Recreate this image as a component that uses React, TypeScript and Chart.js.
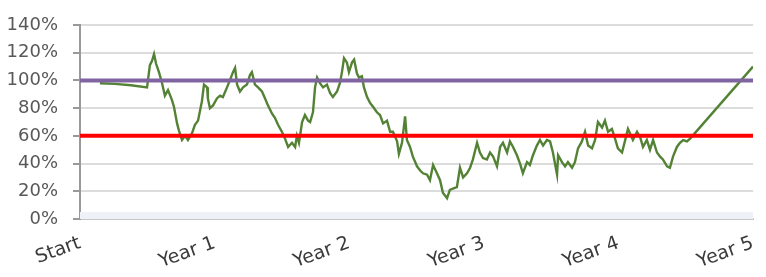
import React, { useEffect, useRef } from "react";
import { Chart, registerables } from "chart.js";

Chart.register(...registerables);

// x labels (one per year tick, 52 weeks apart)
const yearLabels = ["Start", "Year 1", "Year 2", "Year 3", "Year 4", "Year 5"];
const yTickValues = [0, 20, 40, 60, 80, 100, 120, 140];

// elapsed time in weeks for each observation
const weeks = [
  7.7, 13.5, 19.7, 25.9, 27.0, 27.8, 28.6, 29.4, 30.5, 31.7, 32.8, 34.0, 35.5, 36.3, 37.5, 38.2,
  39.4, 40.6, 41.7, 43.3, 44.4, 45.6, 47.1, 47.9, 49.1, 49.4, 50.2, 51.4, 52.9, 54.1, 55.2, 56.8,
  57.9, 59.1, 59.9, 60.7, 61.8, 63.0, 64.5, 65.7, 66.4, 67.6, 68.8, 70.3, 71.5, 72.6, 74.2, 75.3,
  76.5, 78.0, 79.2, 80.4, 81.9, 83.1, 83.8, 84.6, 85.8, 86.9, 88.1, 88.9, 90.0, 90.8, 91.6, 92.7,
  93.9, 95.4, 96.6, 97.7, 99.3, 100.4, 101.2, 102.0, 103.1, 103.9, 105.1, 105.9, 107.0, 107.8, 108.9,
  109.7, 110.9, 112.0, 113.2, 114.7, 115.9, 117.1, 118.6, 119.8, 120.9, 122.5, 123.2, 124.4, 125.6,
  126.3, 127.5, 128.6, 130.2, 131.4, 132.5, 134.1, 135.2, 136.4, 137.9, 139.1, 140.2, 141.8, 142.9,
  144.1, 145.6, 146.8, 148.0, 149.5, 150.7, 151.8, 153.4, 154.5, 155.7, 157.2, 158.4, 159.6, 161.1,
  162.3, 163.4, 165.0, 166.1, 167.3, 168.8, 170.0, 171.1, 172.7, 173.8, 175.0, 176.5, 177.7, 178.9,
  180.4, 181.6, 182.7, 184.3, 184.7, 186.2, 187.4, 188.5, 190.1, 191.2, 192.4, 193.9, 195.1, 196.3,
  197.8, 199.0, 200.1, 201.7, 202.8, 204.0, 205.5, 206.7, 207.8, 209.4, 210.5, 211.7, 212.9, 213.6,
  215.2, 216.4, 217.5, 219.0, 220.2, 221.4, 222.9, 224.1, 225.2, 226.8, 227.9, 229.1, 230.6, 231.8,
  233.0, 234.5, 235.7, 260.0,
];

// performance level (%) at each observation
const performance = [
  98, 97.5, 96.5, 95, 111, 114, 119, 112, 106, 98, 89, 93, 86, 81, 69, 64,
  57, 60, 57, 62, 68, 71, 85, 97, 95, 87, 80, 82, 87, 89, 88, 95,
  100, 106, 109, 97, 92, 95, 97, 104, 106, 97, 95, 92, 87, 82, 76, 73,
  68, 63, 58, 52, 55, 52, 60, 55, 70, 75, 71, 70, 77, 95, 102, 98,
  95, 97, 91, 88, 92, 98, 106, 116, 113, 106, 113, 115, 105, 102, 103,
  95, 88, 84, 81, 77, 75, 69, 71, 63, 63, 56, 47, 55, 74,
  57, 52, 45, 38, 35, 33, 32, 28, 39, 33, 28, 19, 15, 21,
  22, 23, 37, 30, 33, 37, 43, 55, 48, 44, 43, 48, 45, 38,
  52, 55, 48, 56, 52, 46, 40, 33, 41, 39, 46, 53, 57, 53,
  57, 56, 48, 32, 46, 41, 38, 41, 37, 41, 51, 56, 63, 53,
  51, 57, 70, 66, 71, 63, 65, 58, 51, 48, 56, 65, 60, 57,
  63, 59, 52, 57, 50, 57, 48, 45, 43, 38, 37, 45, 52, 55,
  57, 56, 58, 110,
];

const upperLevel = 100;
const lowerLevel = 60;
const baseBand = 5;
const startWeek = 0;
const endWeek = 260;

export default function App() {
  const canvasRef = useRef<HTMLCanvasElement | null>(null);

  useEffect(() => {
    document.body.style.margin = "0";
    const canvas = canvasRef.current;
    if (!canvas) return;

    const series = weeks.map((w, i) => ({ x: w, y: performance[i] }));
    const flat = (v: number) => [
      { x: startWeek, y: v },
      { x: endWeek, y: v },
    ];

    const chart = new Chart(canvas, {
      type: "line",
      data: {
        datasets: [
          {
            data: flat(upperLevel),
            borderColor: "#8064a2",
            borderWidth: 4,
            pointRadius: 0,
            order: 1,
          },
          {
            data: flat(lowerLevel),
            borderColor: "#ff0000",
            borderWidth: 4,
            pointRadius: 0,
            order: 1,
          },
          {
            data: series,
            borderColor: "#548235",
            borderWidth: 2.4,
            pointRadius: 0,
            tension: 0,
            order: 2,
          },
          {
            data: flat(baseBand),
            borderWidth: 0,
            backgroundColor: "#eef2f8",
            fill: "origin",
            pointRadius: 0,
            order: 10,
          },
        ],
      },
      options: {
        animation: false,
        responsive: false,
        events: [],
        layout: { padding: { top: 25, right: 13, left: 0, bottom: 0 } },
        plugins: {
          legend: { display: false },
          tooltip: { enabled: false },
        },
        scales: {
          x: {
            type: "linear",
            min: startWeek,
            max: endWeek,
            afterFit: (scale: any) => {
              scale.height = 58;
              scale.paddingRight = 0;
              scale.paddingLeft = 0;
            },
            afterBuildTicks: (scale: any) => {
              scale.ticks = yearLabels.map((_, i) => ({ value: i * 52 }));
            },
            grid: { display: false, drawTicks: false },
            border: { display: true, color: "#c6c6c6", width: 2 },
            ticks: {
              autoSkip: false,
              minRotation: 20,
              maxRotation: 20,
              padding: 13,
              color: "#3a3a3a",
              font: { family: "DejaVu Sans", size: 19 },
              callback: (_v: any, i: number) => yearLabels[i],
            },
          },
          y: {
            min: 0,
            max: 140,
            afterFit: (scale: any) => {
              scale.width = 80;
              scale.paddingTop = 0;
              scale.paddingBottom = 0;
            },
            afterBuildTicks: (scale: any) => {
              scale.ticks = yTickValues.map((v) => ({ value: v }));
            },
            grid: {
              color: "#dcdcdc",
              lineWidth: 2,
              tickColor: "#999999",
              tickLength: 7,
              drawTicks: true,
            },
            border: { display: true, color: "#999999", width: 2 },
            ticks: {
              padding: 15,
              color: "#595959",
              font: { family: "DejaVu Sans", size: 18 },
              callback: (v: any) => v + "%",
            },
          },
        },
      },
    });

    return () => chart.destroy();
  }, []);

  return (
    <div style={{ width: 766, height: 277 }}>
      <canvas ref={canvasRef} width={766} height={277} />
    </div>
  );
}
